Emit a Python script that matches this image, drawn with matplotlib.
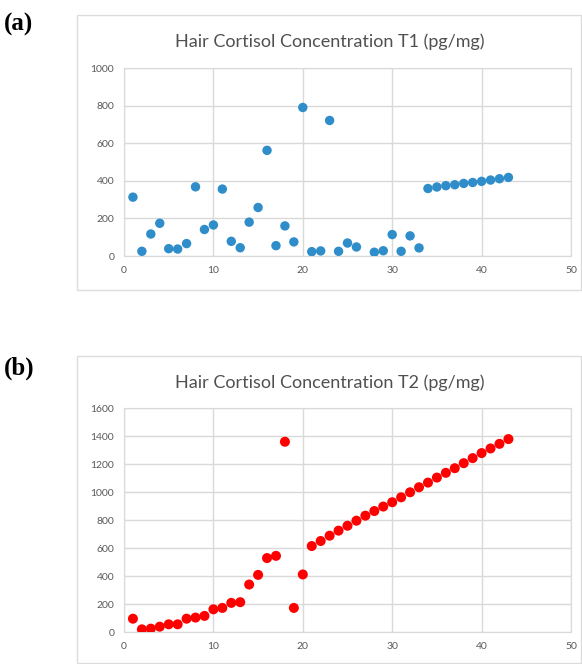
import numpy as np
import matplotlib
matplotlib.use('Agg')
from matplotlib import pyplot as plt
from matplotlib.patches import Rectangle

# T1 (no sample 27)
t1_x = [1, 2, 3, 4, 5, 6, 7, 8, 9, 10, 11, 12, 13, 14, 15, 16, 17, 18, 19, 20, 21,
        22, 23, 24, 25, 26, 28, 29, 30, 31, 32, 33, 34, 35, 36, 37, 38, 39, 40, 41, 42, 43]
t1_y = [313, 25, 117, 174, 39, 37, 66, 368, 141, 165, 356, 78, 44, 180, 258, 562, 55, 160, 75, 790, 23,
        27, 721, 25, 69, 48, 20, 28, 114, 25, 107, 43, 359, 367, 374, 379, 386, 391, 397, 404, 411, 418]

# T2
t2_x = list(range(1, 44))
t2_y = [95, 19, 24, 38, 55, 55, 95, 103, 115, 162, 172, 208, 213, 339, 408, 528, 544, 1359, 172, 411,
        614, 650, 688, 724, 759, 795, 831, 864, 896, 927, 962, 998, 1034, 1067, 1103, 1137, 1170,
        1206, 1242, 1278, 1311, 1344, 1378]

W, H = 582, 664
fig = plt.figure(figsize=(W / 100.0, H / 100.0), dpi=100)
fig.patch.set_facecolor('white')

def px_box(x0, y0, x1, y1):
    # pixel box (top-left origin) -> figure fraction
    return [x0 / W, 1 - y1 / H, (x1 - x0) / W, (y1 - y0) / H]

def chart(box, frame, title, title_y, label, label_y, xs, ys, color, ymax, ystep, size):
    fig.patches.append(Rectangle((frame[0] / W, 1 - frame[3] / H),
                                 (frame[2] - frame[0]) / W, (frame[3] - frame[1]) / H,
                                 transform=fig.transFigure, fill=False,
                                 edgecolor='#dcdcdc', linewidth=1.0))
    ax = fig.add_axes(box)
    ax.scatter(xs, ys, s=size, color=color, edgecolors='none', zorder=3)
    ax.set_xlim(0, 50)
    ax.set_ylim(0, ymax)
    ax.set_xticks(np.arange(0, 51, 10))
    ax.set_yticks(np.arange(0, ymax + 1, ystep))
    ax.grid(True, color='#d9d9d9', linewidth=1.0)
    ax.set_axisbelow(True)
    for s in ax.spines.values():
        s.set_color('#d9d9d9')
    ax.tick_params(length=0, labelsize=7.5, labelcolor='#595959', pad=7)
    for t in ax.get_xticklabels() + ax.get_yticklabels():
        t.set_family('Lato')
    fig.text(0.567, 1 - title_y / H, title, ha='center', va='center',
             fontsize=13, color='#505050', family='Lato')
    fig.text(4 / W, 1 - label_y / H, label, ha='left', va='center',
             fontsize=18, fontweight='bold', family='Liberation Serif')
    return ax

chart(px_box(124, 68, 571, 256), (77, 15, 581, 290),
      'Hair Cortisol Concentration T1 (pg/mg)', 42, '(a)', 24,
      t1_x, t1_y, '#2f8dca', 1000, 200, 46)
chart(px_box(124, 408, 571, 632), (77, 356, 581, 663),
      'Hair Cortisol Concentration T2 (pg/mg)', 383, '(b)', 368,
      t2_x, t2_y, '#ff0000', 1600, 200, 52)

plt.savefig('out.png', dpi=100)
